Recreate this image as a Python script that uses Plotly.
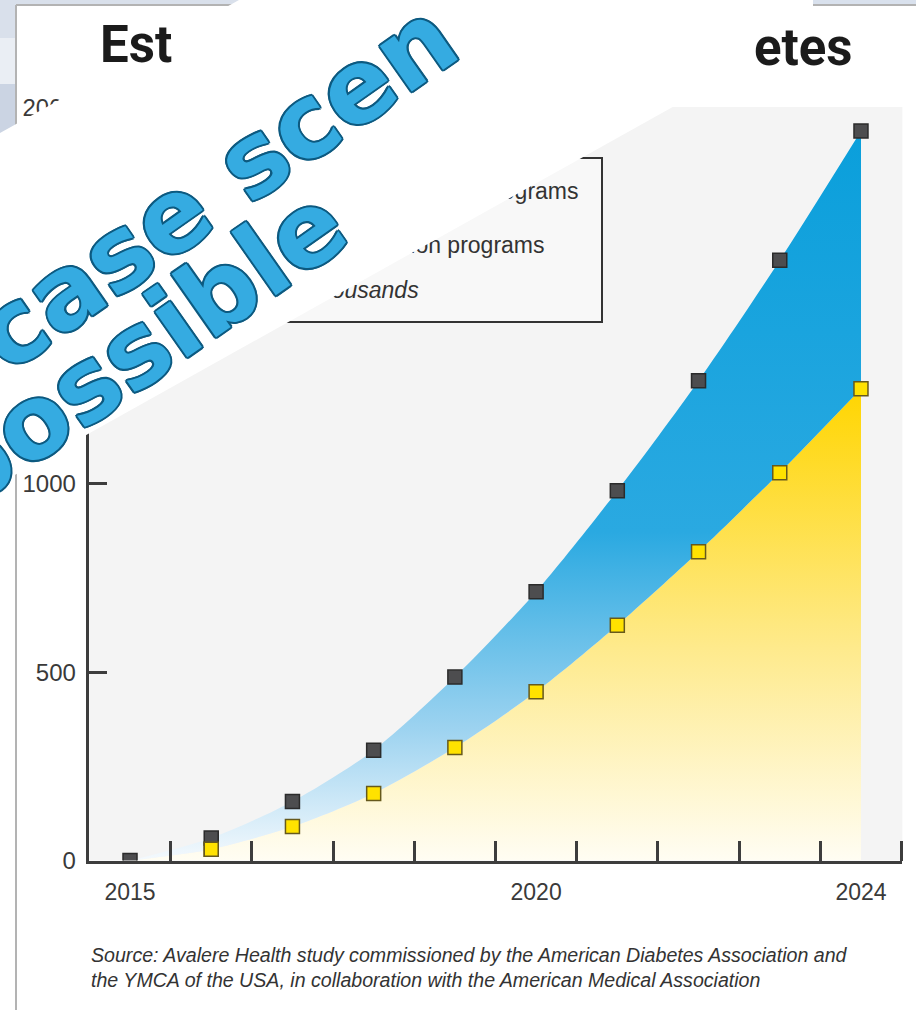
import plotly.graph_objects as go

W, H = 916, 1010

# ---- data (thousands) ----
years = [2015, 2016, 2017, 2018, 2019, 2020, 2021, 2022, 2023, 2024]
without_programs = [0, 60, 157, 293, 487, 714, 982, 1274, 1594, 1937]
with_programs = [0, 30, 90, 178, 300, 448, 625, 820, 1030, 1253]
year_labels = [2015, 2020, 2024]
half_year_ticks = [2015.5, 2016.5, 2017.5, 2018.5, 2019.5, 2020.5, 2021.5, 2022.5, 2023.5, 2024.5]
y_ticks = [0, 500, 1000, 1500, 2000]

# ---- geometry helpers (pixel -> paper / data) ----
PL, PR, PB, PT = 89.4, 902.4, 860.5, 107.0
X_MIN, X_MAX, Y_MIN, Y_MAX = 2014.5, 2024.5, 0, 2000


def px(x):
    return x / W


def py(y):
    return 1 - y / H


def dx(x):
    return X_MIN + (x - PL) / (PR - PL) * (X_MAX - X_MIN)


def dy(y):
    return Y_MIN + (PB - y) / (PB - PT) * (Y_MAX - Y_MIN)


NARROW = "Liberation Sans Narrow, Liberation Sans, Arial, sans-serif"
SANS = "Liberation Sans, Arial, sans-serif"
TXT = "#3a3a3a"

fig = go.Figure()

# yellow area (with prevention programs)
fig.add_trace(go.Scatter(
    x=years, y=with_programs, mode="lines",
    line=dict(width=0, shape="spline", smoothing=0.8, color="#ffd700"),
    fill="tozeroy",
    fillgradient=dict(type="vertical", start=0, stop=1253,
                      colorscale=[[0, "#fffdf3"], [0.45, "#feea8c"], [1, "#ffd500"]]),
    hoverinfo="skip", showlegend=False))

# blue band (difference up to no-program scenario)
fig.add_trace(go.Scatter(
    x=years, y=without_programs, mode="lines",
    line=dict(width=0, shape="spline", smoothing=0.8, color="#0ba0dc"),
    fill="tonexty",
    fillgradient=dict(type="vertical", start=0, stop=1937,
                      colorscale=[[0, "#f4f9fd"], [0.18, "#9dd3f0"], [0.45, "#2aa9e1"], [1, "#0a9fdb"]]),
    hoverinfo="skip", showlegend=False))

# markers (the 2015 starting point of the yellow series sits under the grey one)
fig.add_trace(go.Scatter(
    x=years[1:], y=with_programs[1:], mode="markers",
    marker=dict(symbol="square", size=14, color="#ffe200",
                line=dict(color="#66591c", width=1.5)),
    showlegend=False))
fig.add_trace(go.Scatter(
    x=years, y=without_programs, mode="markers",
    marker=dict(symbol="square", size=14, color="#4d4d4f",
                line=dict(color="#2b2b2b", width=1.5)),
    showlegend=False))
fig.add_trace(go.Scatter(
    x=years[1:2], y=with_programs[1:2], mode="markers",
    marker=dict(symbol="square", size=14, color="#ffe200",
                line=dict(color="#66591c", width=1.5)),
    showlegend=False, hoverinfo="skip"))

# legend texts, partly hidden by the overlay band (drawn as trace text)
fig.add_trace(go.Scatter(
    x=[dx(579), dx(545)], y=[dy(193), dy(247)], mode="text",
    text=["programs", "ntion programs"], textposition="middle left",
    textfont=dict(family=SANS, size=23, color="#333333"),
    cliponaxis=False, showlegend=False, hoverinfo="skip"))
fig.add_trace(go.Scatter(
    x=[dx(419)], y=[dy(292)], mode="text",
    text=["thousands"], textposition="middle left",
    textfont=dict(family=SANS, size=23, color="#333333", style="italic"),
    cliponaxis=False, showlegend=False, hoverinfo="skip"))

shapes = []
# slide frame pieces
shapes.append(dict(type="rect", xref="paper", yref="paper", x0=px(0), x1=px(16), y0=py(0), y1=py(38),
                   fillcolor="#d9e0eb", line=dict(width=0), layer="above"))
shapes.append(dict(type="rect", xref="paper", yref="paper", x0=px(0), x1=px(16), y0=py(38), y1=py(84),
                   fillcolor="#eaeef4", line=dict(width=0), layer="above"))
shapes.append(dict(type="rect", xref="paper", yref="paper", x0=px(0), x1=px(16), y0=py(84), y1=py(140),
                   fillcolor="#cbd4e3", line=dict(width=0), layer="above"))
shapes.append(dict(type="rect", xref="paper", yref="paper", x0=px(0), x1=px(260), y0=py(0), y1=py(5),
                   fillcolor="#d9e0eb", line=dict(width=0), layer="above"))
shapes.append(dict(type="rect", xref="paper", yref="paper", x0=px(813), x1=px(916), y0=py(0), y1=py(5),
                   fillcolor="#d9e1ed", line=dict(width=0), layer="above"))
shapes.append(dict(type="line", xref="paper", yref="paper", x0=px(16), x1=px(16), y0=py(5), y1=py(1010),
                   line=dict(color="#b3b3b3", width=2), layer="above"))
shapes.append(dict(type="line", xref="paper", yref="paper", x0=px(16), x1=px(260), y0=py(5), y1=py(5),
                   line=dict(color="#b3b3b3", width=2), layer="above"))
shapes.append(dict(type="line", xref="paper", yref="paper", x0=px(813), x1=px(916), y0=py(5), y1=py(5),
                   line=dict(color="#b3b3b3", width=2), layer="above"))
# legend box
shapes.append(dict(type="rect", xref="paper", yref="paper", x0=px(200), x1=px(602), y0=py(322), y1=py(158),
                   fillcolor="rgba(250,250,250,0.6)", line=dict(color="#333333", width=2), layer="below"))
# white diagonal overlay band
band = [(-5, 135.8), (248, -5), (819.5, -5), (687, 99), (-5, 486)]
path = "M " + " L ".join(f"{px(a):.5f},{py(b):.5f}" for a, b in band) + " Z"
shapes.append(dict(type="path", xref="paper", yref="paper", path=path,
                   fillcolor="#ffffff", line=dict(width=0), layer="above"))

outline = "#0d5a80"
shadow = (f"{outline} 2px 0px 0px, {outline} -2px 0px 0px, {outline} 0px 2px 0px, "
          f"{outline} 0px -2px 0px, {outline} 1.5px 1.5px 0px, {outline} -1.5px -1.5px 0px, "
          f"{outline} 1.5px -1.5px 0px, {outline} -1.5px 1.5px 0px")
WM_FONT = dict(family="DejaVu Sans, Verdana, sans-serif", size=102, color="#35abe1",
               weight="bold", shadow=shadow)
TITLE_FONT = dict(family="Roboto, Liberation Sans, sans-serif", size=51, color="#1b1b1b", weight="bold")

annotations = [
    dict(text="Est", xref="paper", yref="paper", x=px(98), y=py(44),
         xanchor="left", yanchor="middle", showarrow=False, font=TITLE_FONT),
    dict(text="etes", xref="paper", yref="paper", x=px(855), y=py(47),
         xanchor="right", yanchor="middle", showarrow=False, font=TITLE_FONT),
    dict(text="case scen", xref="paper", yref="paper", x=px(216), y=py(186),
         xanchor="center", yanchor="middle", textangle=-35, showarrow=False, font=WM_FONT),
    dict(text="possible", xref="paper", yref="paper", x=px(138), y=py(348),
         xanchor="center", yanchor="middle", textangle=-35, showarrow=False, font=WM_FONT),
    dict(text="Source: Avalere Health study commissioned by the American Diabetes Association and"
              "<br>the YMCA of the USA, in collaboration with the American Medical Association",
         xref="paper", yref="paper", x=px(89), y=py(942), xanchor="left", yanchor="top",
         align="left", showarrow=False,
         font=dict(family=NARROW, size=19.6, color="#333333", style="italic")),
]

fig.update_layout(
    width=W, height=H,
    margin=dict(l=0, r=0, t=0, b=0, pad=0, autoexpand=False),
    paper_bgcolor="#ffffff",
    plot_bgcolor="#f4f4f4",
    shapes=shapes,
    annotations=annotations,
    showlegend=False,
    xaxis=dict(
        domain=[PL / W, PR / W], range=[X_MIN, X_MAX + 0.01], automargin=False,
        tickvals=year_labels, ticktext=[str(v) for v in year_labels],
        ticks="", showgrid=False, zeroline=False,
        showline=True, linecolor="#3d3d3d", linewidth=2.5,
        tickfont=dict(family=NARROW, size=23, color=TXT),
        ticklabelstandoff=9,
        minor=dict(tickvals=half_year_ticks, ticks="inside", ticklen=20,
                   tickwidth=2.5, tickcolor="#3d3d3d", showgrid=False),
    ),
    yaxis=dict(
        domain=[1 - PB / H, 1 - PT / H], range=[Y_MIN, Y_MAX + 1], automargin=False,
        tickvals=y_ticks, ticks="inside", ticklen=18, tickwidth=2.5, tickcolor="#3d3d3d",
        showgrid=False, zeroline=False,
        showline=True, linecolor="#3d3d3d", linewidth=2.5,
        tickfont=dict(family=NARROW, size=24, color=TXT),
        ticklabelstandoff=6,
    ),
)

fig.write_html("out.html")
